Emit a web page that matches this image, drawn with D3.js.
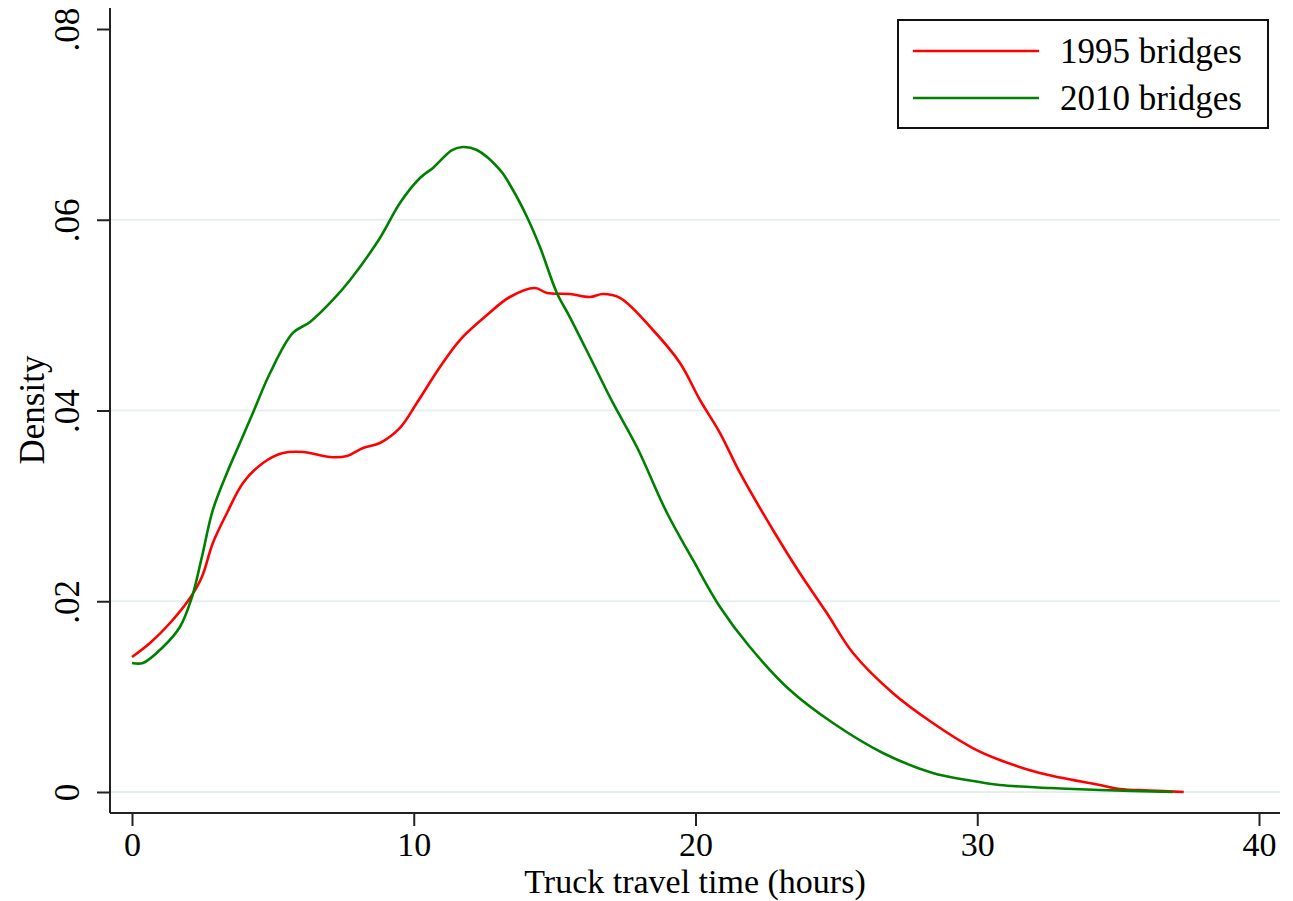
<!DOCTYPE html>
<html>
<head>
<meta charset="utf-8">
<script src="https://cdn.jsdelivr.net/npm/d3@7"></script>
<style>
  body { margin: 0; background: #fff; }
  text { font-family: "Liberation Serif", "Times New Roman", serif; fill: #000; }
</style>
</head>
<body>
<div id="chart"></div>
<script>
// Values (hours, density)
const hours1995 = [0, 0.64, 1.35, 2.06, 2.48, 2.87, 3.37, 3.94, 4.65, 5.36, 6.07, 7.03, 7.63, 8.2, 8.8, 9.51, 10.11, 10.93, 11.64, 12.6, 13.41, 14.3, 14.73, 15.54, 16.25, 16.71, 17.32, 18.49, 19.45, 20.16, 20.87, 21.58, 22.75, 23.7, 24.66, 25.59, 27.0, 28.42, 29.84, 30.8, 32.22, 34.35, 35.06, 36.1, 37.33];
const density1995 = [0.01415, 0.01562, 0.01772, 0.02034, 0.02254, 0.02611, 0.02925, 0.0324, 0.0345, 0.03554, 0.03565, 0.03512, 0.03523, 0.03607, 0.03659, 0.03817, 0.04079, 0.04456, 0.04739, 0.05001, 0.0519, 0.05284, 0.05232, 0.05221, 0.0519, 0.05221, 0.0518, 0.04844, 0.04498, 0.0411, 0.03764, 0.03345, 0.02747, 0.02296, 0.01877, 0.01457, 0.01038, 0.00723, 0.00461, 0.00336, 0.00199, 0.00073, 0.00031, 0.00016, 0];

const hours2010 = [0, 0.39, 1.1, 1.7, 2.13, 2.48, 2.87, 3.37, 3.83, 4.29, 4.9, 5.71, 6.32, 7.13, 7.74, 8.8, 9.51, 10.22, 10.68, 11.36, 11.75, 12.24, 13.06, 13.52, 14.02, 14.48, 15.08, 15.54, 16.36, 17.07, 17.92, 18.99, 19.91, 20.87, 21.93, 23.35, 24.88, 26.65, 28.42, 29.63, 30.8, 32.58, 34.35, 36.94];
const density2010 = [0.01353, 0.01353, 0.0152, 0.0173, 0.02045, 0.02464, 0.02957, 0.03345, 0.03659, 0.03974, 0.04393, 0.04813, 0.04928, 0.05159, 0.05368, 0.05809, 0.06176, 0.06438, 0.06543, 0.06731, 0.06763, 0.06731, 0.06522, 0.06312, 0.06029, 0.05714, 0.05232, 0.0498, 0.04498, 0.04079, 0.03617, 0.02925, 0.02433, 0.0194, 0.0152, 0.01069, 0.00723, 0.00409, 0.00199, 0.00126, 0.00073, 0.00042, 0.00021, 0];

const seriesNames = ["1995 bridges", "2010 bridges"];
const seriesColors = ["#ff0000", "#008000"];
const xTicks = [0, 10, 20, 30, 40];
const yTicks = [0, 0.02, 0.04, 0.06, 0.08];
const gridTicks = [0, 0.02, 0.04, 0.06];

const width = 1293, height = 901;

const svg = d3.select("#chart").append("svg")
    .attr("width", width)
    .attr("height", height);

const xScale = d3.scaleLinear().domain([0, 40]).range([132, 1259]);
const yScale = d3.scaleLinear().domain([0, 0.08]).range([792, 29]);

const axisLeftX = 110, axisBottomY = 813;

// gridlines
svg.append("g")
    .selectAll("line")
    .data(gridTicks)
    .enter()
    .append("line")
        .attr("x1", axisLeftX)
        .attr("x2", 1280)
        .attr("y1", d => yScale(d))
        .attr("y2", d => yScale(d))
        .attr("stroke", "#e6eff0")
        .attr("stroke-width", 2);

// y axis
const yAxis = svg.append("g")
    .attr("transform", "translate(" + axisLeftX + ",0)")
    .call(d3.axisLeft(yScale).tickValues(yTicks).tickSize(13).tickSizeOuter(0).tickFormat(d => d === 0 ? "0" : d3.format(".2f")(d).replace(/^0/, "")));
yAxis.select(".domain").attr("d", "M0,8V" + axisBottomY).attr("stroke", "#222").attr("stroke-width", 2);
yAxis.selectAll(".tick line").attr("stroke", "#222").attr("stroke-width", 2);
yAxis.selectAll(".tick text")
    .attr("x", null).attr("dy", null)
    .attr("transform", "translate(-31,0) rotate(-90)")
    .attr("text-anchor", "middle")
    .style("font-size", "35px");

// x axis
const xAxis = svg.append("g")
    .attr("transform", "translate(0," + axisBottomY + ")")
    .call(d3.axisBottom(xScale).tickValues(xTicks).tickSize(13).tickSizeOuter(0));
xAxis.select(".domain").attr("d", "M" + axisLeftX + ",0H1280").attr("stroke", "#222").attr("stroke-width", 2);
xAxis.selectAll(".tick line").attr("stroke", "#222").attr("stroke-width", 2);
xAxis.selectAll(".tick text")
    .attr("y", 43).attr("dy", null)
    .style("font-size", "34px");

// density curves
const line = d3.line()
    .x(d => xScale(d[0]))
    .y(d => yScale(d[1]))
    .curve(d3.curveCatmullRom);

const series = [
    d3.zip(hours1995, density1995),
    d3.zip(hours2010, density2010)
];

svg.selectAll(".curve")
    .data(series)
    .enter()
    .append("path")
        .attr("class", "curve")
        .attr("fill", "none")
        .attr("stroke", (d, i) => seriesColors[i])
        .attr("stroke-width", 2.6)
        .attr("d", line);

// axis titles
svg.append("text")
    .attr("x", 695)
    .attr("y", 893)
    .style("text-anchor", "middle")
    .style("font-size", "34px")
    .text("Truck travel time (hours)");

svg.append("text")
    .attr("transform", "translate(44,410) rotate(-90)")
    .style("text-anchor", "middle")
    .style("font-size", "35px")
    .text("Density");

// legend
const legend = svg.append("g");
legend.append("rect")
    .attr("x", 898).attr("y", 20)
    .attr("width", 370).attr("height", 108)
    .attr("fill", "#fff")
    .attr("stroke", "#111")
    .attr("stroke-width", 2);

seriesNames.forEach((name, i) => {
    const y = 51 + i * 47;
    legend.append("line")
        .attr("x1", 913).attr("x2", 1039)
        .attr("y1", y).attr("y2", y)
        .attr("stroke", seriesColors[i])
        .attr("stroke-width", 2.6);
    legend.append("text")
        .attr("x", 1060)
        .attr("y", y + 12)
        .style("font-size", "35px")
        .text(name);
});
</script>
</body>
</html>
